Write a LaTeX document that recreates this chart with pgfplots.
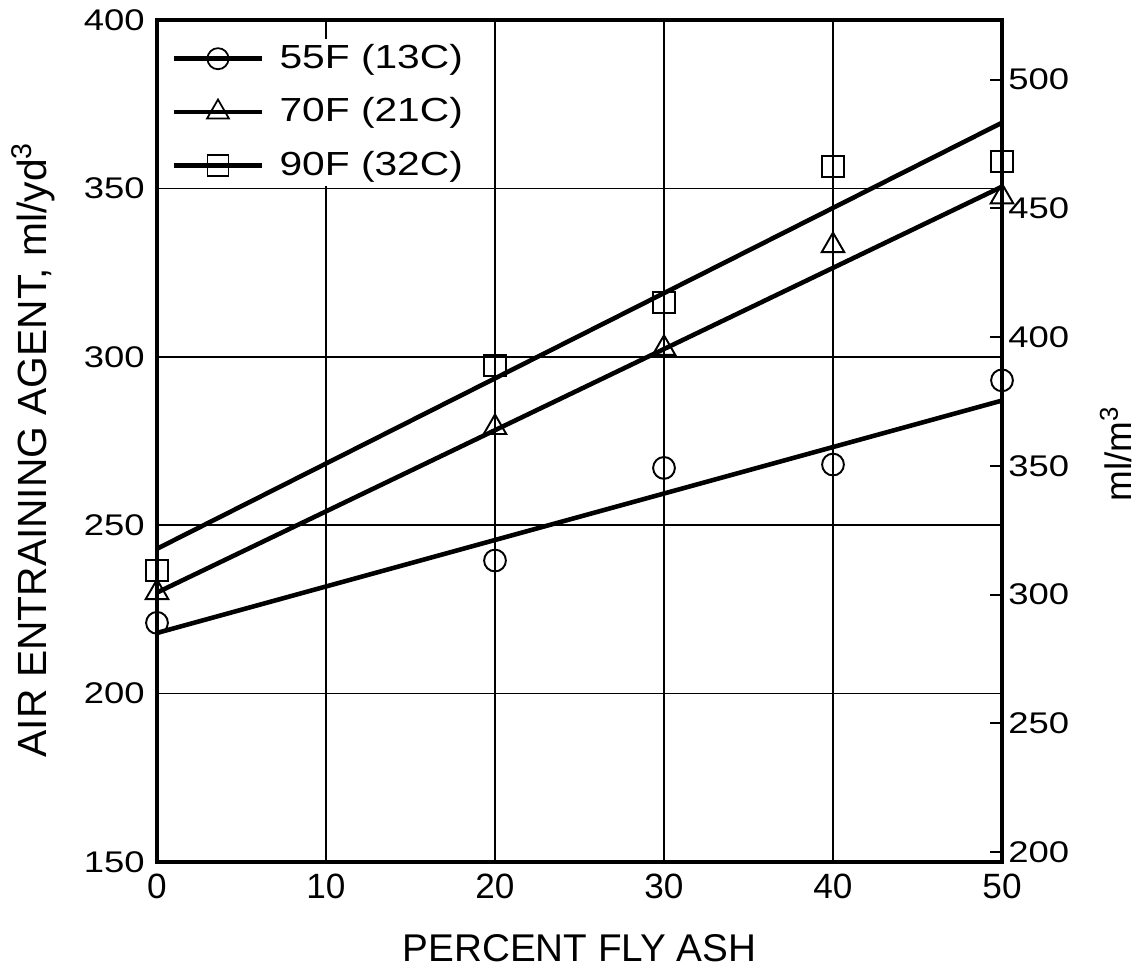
\documentclass[border=0pt]{standalone}
\usepackage{fontspec}
\setmainfont{Liberation Sans}
\newfontfamily\widefont[FakeStretch=1.22]{Liberation Sans}
\usepackage{pgfplots}
\pgfplotsset{compat=1.18}
\begin{document}
\begin{tikzpicture}
\path[use as bounding box] (-15.7mm,-10.6mm) rectangle (98.3mm,86.2mm);
\begin{axis}[
  width=84.5mm, height=84.2mm, scale only axis,
  xmin=0, xmax=50, ymin=150, ymax=400,
  xtick={0,10,...,50}, ytick={150,200,...,400},
  /pgf/number format/assume math mode=true,
  grid=major, major grid style={black, line width=0.5pt},
  axis line style={line width=1.3pt},
  major tick length=0pt,
  clip=false,
  xticklabel style={font=\fontsize{10}{12}\selectfont},
  yticklabel style={font=\widefont\fontsize{8.5}{10}\selectfont},
  xlabel={PERCENT FLY ASH},
  xlabel style={font=\fontsize{11}{13}\selectfont, at={(axis description cs:0.5,0)}, anchor=center, yshift=-8.6mm},
  ylabel={AIR ENTRAINING AGENT, ml/yd\textsuperscript{3}},
  ylabel style={font=\fontsize{11.6}{13}\selectfont, at={(axis description cs:0,0.49)}, anchor=center, yshift=12.4mm},
  legend style={at={(axis description cs:0,1)}, anchor=north west, xshift=1.4mm, yshift=-1.8mm,
    draw=none, fill=white, inner sep=0pt, row sep=1.35mm,
    nodes={inner sep=1.5pt},
    /tikz/every odd column/.append style={column sep=1mm},
    font=\widefont\fontsize{9.5}{11}\selectfont},
  legend cell align=left,
  legend image code/.code={\draw[mark repeat=2,mark phase=2,#1] plot coordinates {(0mm,0mm) (4.4mm,0mm) (8.8mm,0mm)};},
]
\addlegendimage{black, line width=1.3pt, mark=o, mark size=3pt, mark options={line width=0.5pt, fill=white, solid}}
\addlegendentry{55F (13C)}
\addlegendimage{black, line width=1.3pt, mark=triangle, mark size=3.6pt, mark options={line width=0.5pt, fill=white, solid}}
\addlegendentry{70F (21C)}
\addlegendimage{black, line width=1.3pt, mark=square, mark size=3pt, mark options={line width=0.5pt, fill=white, solid}}
\addlegendentry{90F (32C)}
% fitted lines
\addplot[forget plot, black, line width=1.3pt, no marks] coordinates {(0,218) (50,287)};
\addplot[forget plot, black, line width=1.3pt, no marks] coordinates {(0,230) (50,350.5)};
\addplot[forget plot, black, line width=1.3pt, no marks] coordinates {(0,243) (50,369.5)};
% data points
\addplot[forget plot, only marks, mark=o, mark size=3.1pt, mark options={black, line width=0.55pt, fill=white}]
  coordinates {(0,221) (20,239.5) (30,267) (40,268) (50,293)};
\addplot[forget plot, only marks, mark=triangle, mark size=3.7pt, mark options={black, line width=0.55pt, fill=white}]
  coordinates {(0,230) (20,279) (30,302.5) (40,333) (50,347.5)};
\addplot[forget plot, only marks, mark=square, mark size=3pt, mark options={black, line width=0.55pt, fill=white}]
  coordinates {(0,236.5) (20,297.5) (30,316) (40,356.5) (50,358)};
\end{axis}
\begin{axis}[
  width=84.5mm, height=84.2mm, scale only axis,
  xmin=0, xmax=50, ymin=196.19, ymax=523.18,
  axis x line=none, axis y line*=right,
  ytick={200,250,...,500},
  /pgf/number format/assume math mode=true,
  axis line style={line width=1.3pt},
  tick align=inside, major tick length=1.2mm,
  ytick style={line width=0.6pt, black},
  yticklabel style={font=\widefont\fontsize{8.5}{10}\selectfont, xshift=-0.6mm},
  ylabel={ml/m\textsuperscript{3}},
  ylabel style={font=\fontsize{10.5}{12}\selectfont, at={(axis description cs:1,0.485)}, anchor=center, yshift=-11.4mm},
]
\addplot[draw=none, forget plot] coordinates {(0,200)};
\end{axis}
\end{tikzpicture}
\end{document}
